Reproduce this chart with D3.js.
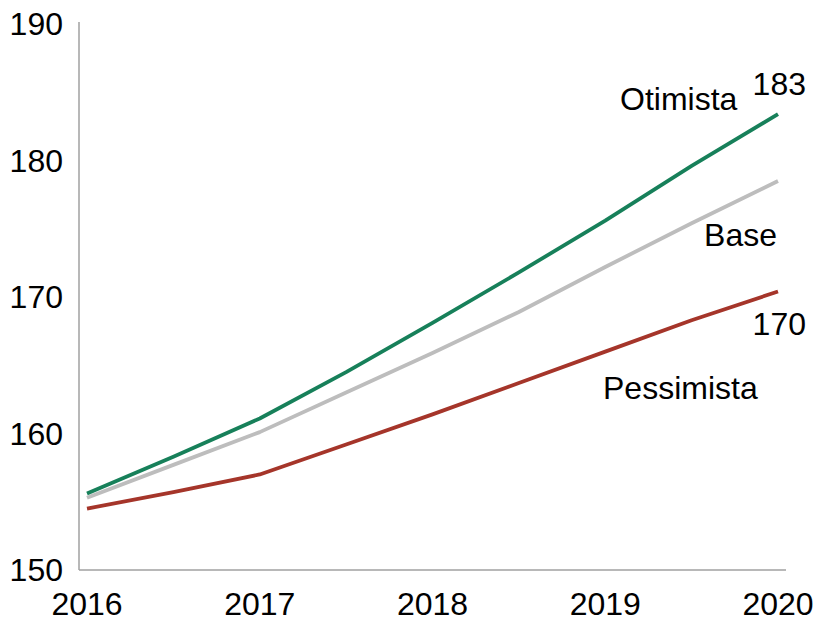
<!DOCTYPE html>
<html>
<head>
<meta charset="utf-8">
<script src="https://cdn.jsdelivr.net/npm/d3@7"></script>
<style>
body { margin: 0; background: #fff; }
text { font-family: "Liberation Sans", Arial, sans-serif; fill: #000; }
</style>
</head>
<body>
<script>
// half-year points
var periods = [2016, 2016.5, 2017, 2017.5, 2018, 2018.5, 2019, 2019.5, 2020];
var otimista   = [155.6, 158.3, 161.1, 164.5, 168.1, 171.8, 175.6, 179.6, 183.4];
var base       = [155.3, 157.7, 160.1, 163.0, 165.9, 168.9, 172.2, 175.4, 178.5];
var pessimista = [154.5, 155.7, 157.0, 159.2, 161.4, 163.7, 166.0, 168.3, 170.4];
var yearTicks = [2016, 2017, 2018, 2019, 2020];
var valueTicks = [150, 160, 170, 180, 190];

var w = 816, h = 622;
var svg = d3.select("body").append("svg")
    .attr("width", w)
    .attr("height", h);

var x = d3.scaleLinear().domain([2016, 2020]).range([87, 778]);
var y = d3.scaleLinear().domain([150, 190]).range([570, 24]);

// axes lines (no tick marks)
svg.append("line")
    .attr("x1", 79).attr("x2", 79)
    .attr("y1", 22).attr("y2", 570)
    .attr("stroke", "#a0a0a0").attr("stroke-width", 1.5);
svg.append("line")
    .attr("x1", 79).attr("x2", 786)
    .attr("y1", 570).attr("y2", 570)
    .attr("stroke", "#a0a0a0").attr("stroke-width", 1.5);

svg.selectAll("text.ytick")
    .data(valueTicks)
    .enter()
    .append("text")
    .attr("class", "ytick")
    .attr("x", 63)
    .attr("y", function(d){ return y(d); })
    .attr("dy", "0.35em")
    .attr("text-anchor", "end")
    .style("font-size", "32px")
    .text(function(d){ return d; });

svg.selectAll("text.xtick")
    .data(yearTicks)
    .enter()
    .append("text")
    .attr("class", "xtick")
    .attr("x", function(d){ return x(d); })
    .attr("y", 615)
    .attr("text-anchor", "middle")
    .style("font-size", "32px")
    .text(function(d){ return d; });

var line = d3.line()
    .x(function(d){ return x(d[0]); })
    .y(function(d){ return y(d[1]); });

var series = [
    {vals: base, color: "#bdbdbd"},
    {vals: otimista, color: "#17805a"},
    {vals: pessimista, color: "#a5352a"}
];
series.forEach(function(s){
    svg.append("path")
        .datum(d3.zip(periods, s.vals))
        .attr("d", line)
        .attr("fill", "none")
        .attr("stroke", s.color)
        .attr("stroke-width", 3.8)
        .attr("stroke-linejoin", "round");
});

// labels
var labels = [
    {t: "Otimista", x: 620, y: 110, a: "start"},
    {t: "183", x: 806, y: 95, a: "end"},
    {t: "Base", x: 777, y: 246, a: "end"},
    {t: "170", x: 806, y: 335, a: "end"},
    {t: "Pessimista", x: 603, y: 399, a: "start"}
];
svg.selectAll("text.lbl")
    .data(labels)
    .enter()
    .append("text")
    .attr("class", "lbl")
    .attr("x", function(d){ return d.x; })
    .attr("y", function(d){ return d.y; })
    .attr("text-anchor", function(d){ return d.a; })
    .style("font-size", "32px")
    .text(function(d){ return d.t; });
</script>
</body>
</html>
